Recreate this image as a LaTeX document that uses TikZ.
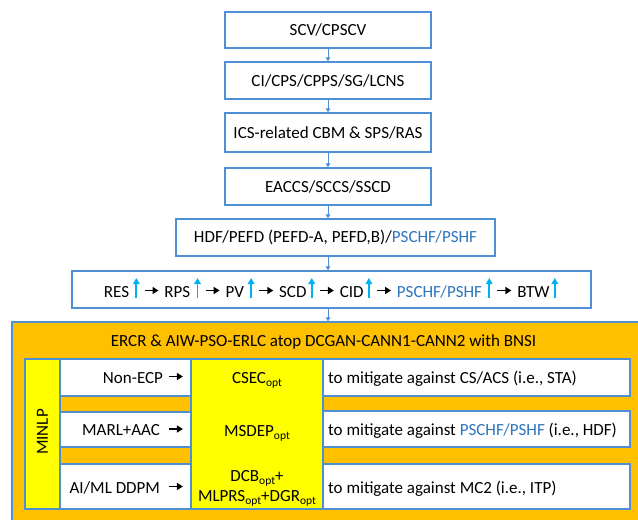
\documentclass[tikz,border=0pt]{standalone}
\usepackage{fontspec}
\setmainfont{Carlito}
\usetikzlibrary{arrows.meta}
\definecolor{bblue}{RGB}{79,143,211}
\definecolor{tblue}{RGB}{46,117,190}
\definecolor{upc}{RGB}{0,176,240}
\definecolor{orng}{RGB}{255,192,0}
\definecolor{yel}{RGB}{255,255,0}
\newcommand{\uparr}{\tikz[baseline=0pt,x=1pt,y=1pt]{\draw[draw=upc,line width=1.8pt,-{Triangle[length=6pt,width=6.5pt]}] (0,-1) -- (0,19);}}
\newcommand{\rarr}{\tikz[baseline=0pt,x=1pt,y=1pt]{\draw[black,line width=1.8pt,-{Triangle[length=6pt,width=7pt]}] (0,6.5) -- (14,6.5);}}
\newcommand{\optsub}{\raisebox{-3.5pt}{\fontsize{11.5}{12}\selectfont opt}}
\tikzset{
  box/.style={draw=bblue, line width=1.3pt, fill=white, inner sep=0pt},
  txt/.style={inner sep=0pt, font=\fontsize{17}{20}\selectfont},
  conn/.style={draw=bblue, line width=1pt, -{Triangle[length=4pt,width=4.5pt]}},
}
\begin{document}
\begin{tikzpicture}[x=1pt,y=-1pt]
\clip (0,0) rectangle (638,520);
\fill[white] (0,0) rectangle (638,520);
% top chain
\node[box, txt, minimum width=206pt, minimum height=36pt] (b1) at (328,30) {SCV/CPSCV};
\node[box, txt, minimum width=206pt, minimum height=37pt] (b2) at (328,80.5) {CI/CPS/CPPS/SG/LCNS};
\node[box, txt, minimum width=206pt, minimum height=39pt] (b3) at (328,132.5) {ICS-related CBM \& SPS/RAS};
\node[box, txt, minimum width=206pt, minimum height=37pt] (b4) at (328,186.5) {EACCS/SCCS/SSCD};
\node[box, txt, minimum width=319pt, minimum height=37pt] (b5) at (335.5,237.5) {HDF/PEFD (PEFD-A, PEFD,B)/\textcolor{tblue}{PSCHF/PSHF}};
\node[box, minimum width=519pt, minimum height=37pt] (b6) at (331.5,289.5) {};
\node[txt, anchor=base] (row) at (331,297) {RES\hspace{4pt}\uparr\hspace{4pt}\rarr\hspace{5pt}RPS\hspace{4pt}\uparr\hspace{4pt}\rarr\hspace{5pt}PV\hspace{4pt}\uparr\hspace{4pt}\rarr\hspace{5pt}SCD\hspace{2pt}\uparr\hspace{4pt}\rarr\hspace{5pt}CID\hspace{2pt}\uparr\hspace{4pt}\rarr\hspace{5pt}\textcolor{tblue}{PSCHF/PSHF}\hspace{4pt}\uparr\hspace{4pt}\rarr\hspace{5pt}BTW\hspace{2pt}\uparr};
% outer orange box
\node[draw=bblue, fill=orng, line width=1.3pt, inner sep=0pt, minimum width=630pt, minimum height=202pt] (outer) at (327,423) {};
\node[txt] (title) at (323.5,342) {ERCR \& AIW-PSO-ERLC atop DCGAN-CANN1-CANN2 with BNSI};
% connectors
\draw[conn] (b1.south) -- (b2.north);
\draw[conn] (b2.south) -- (b3.north);
\draw[conn] (b3.south) -- (b4.north);
\draw[conn] (b4.south) -- (b5.north -| b4.south);
\draw[conn] (b5.south -| b4.south) -- (b6.north -| b4.south);
\draw[conn] (b6.south -| b4.south) -- (outer.north -| b4.south);
% inner blocks
\node[box, fill=yel, minimum width=35pt, minimum height=150pt] (minlp) at (42.5,434) {};
\node[txt, rotate=90] (minlpt) at (42.5,432) {MINLP};
\node[box, fill=orng, minimum width=131pt, minimum height=150pt] (lcol) at (125.5,434) {};
\node[box, minimum width=131pt, minimum height=37pt] (l1) at (125.5,377.5) {};
\node[box, minimum width=131pt, minimum height=35pt] (l2) at (125.5,429.5) {};
\node[box, minimum width=131pt, minimum height=45pt] (l3) at (125.5,486.5) {};
\node[box, fill=yel, minimum width=132pt, minimum height=150pt] (mid) at (257,434) {};
\node[box, minimum width=307pt, minimum height=37pt] (r1) at (476.5,377.5) {};
\node[box, minimum width=307pt, minimum height=36pt] (r2) at (476.5,429) {};
\node[box, minimum width=307pt, minimum height=45pt] (r3) at (476.5,486.5) {};
% left texts
\node[txt, anchor=base east] (lt1) at (184,383) {Non-ECP\hspace{5pt}\rarr};
\node[txt, anchor=base east] (lt2) at (184,435.5) {MARL+AAC\hspace{8pt}\rarr};
\node[txt, anchor=base east] (lt3) at (184,493) {AI/ML DDPM\hspace{8pt}\rarr};
% middle texts
\node[txt, anchor=base] (mt1) at (257,383) {CSEC\optsub};
\node[txt, anchor=base] (mt2) at (257,436) {MSDEP\optsub};
\node[txt, anchor=base] (mt3a) at (257,481) {DCB\optsub+};
\node[txt, anchor=base] (mt3b) at (257,501) {MLPRS\optsub+DGR\optsub};
% right texts
\node[txt, anchor=base west] (rt1) at (328,383) {to mitigate against CS/ACS (i.e., STA)};
\node[txt, anchor=base west] (rt2) at (328,435.5) {to mitigate against \textcolor{tblue}{PSCHF/PSHF} (i.e., HDF)};
\node[txt, anchor=base west] (rt3) at (328,493) {to mitigate against MC2 (i.e., ITP)};
\end{tikzpicture}
\end{document}
